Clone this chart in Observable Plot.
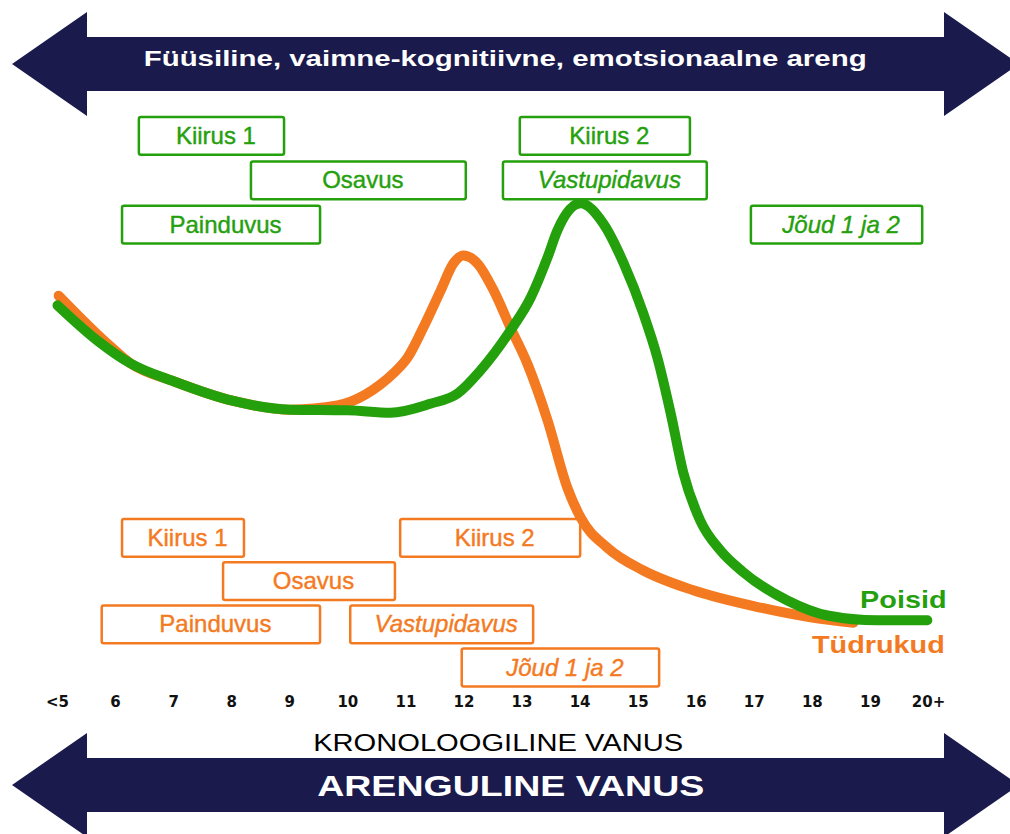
<!DOCTYPE html>
<html><head><meta charset="utf-8">
<script src="https://cdn.jsdelivr.net/npm/d3@7"></script>
<script src="https://cdn.jsdelivr.net/npm/@observablehq/plot@0.6"></script>
<style>
html,body{margin:0;padding:0;background:#fff;}
#wrap{position:relative;width:1010px;height:834px;overflow:hidden;font-family:"Liberation Sans",Arial,sans-serif;}
#deco{position:absolute;left:0;top:0;}
#chart{position:absolute;left:0;top:0;}
.bt{position:absolute;left:0;width:1010px;text-align:center;white-space:nowrap;}
.bt span{display:inline-block;transform-origin:50% 50%;}
</style></head>
<body><div id="wrap">
<svg id="deco" width="1010" height="834">
  <polygon points="12,64 87,12 87,37 944,37 944,12 1019,64 944,116 944,91 87,91 87,116" fill="#1a1a4c"/>
  <polygon points="12,785 87,733 87,758 944,758 944,733 1019,785 944,837 944,812 87,812 87,837" fill="#1a1a4c"/>
</svg>
<div id="chart"></div>
<div class="bt" id="t1" style="top:43px;line-height:31px;font-size:22px;font-weight:bold;color:#fff;"><span data-w="723">Füüsiline, vaimne-kognitiivne, emotsionaalne areng</span></div>
<div class="bt" id="t2" style="top:727px;line-height:32px;font-size:23px;color:#000;"><span data-w="370" style="margin-left:-14px">KRONOLOOGILINE VANUS</span></div>
<div class="bt" id="t3" style="top:765px;line-height:42px;font-size:30px;font-weight:bold;color:#fff;"><span data-w="387" style="margin-left:12px">ARENGULINE VANUS</span></div>
</div>
<script>
// ---- data ----
const ages = [5,6,7,8,9,10,11,12,13,14,15,16,17,18,19,20];
const tickLabels = ["<5","6","7","8","9","10","11","12","13","14","15","16","17","18","19","20+"];

const boysAge = [5.0,5.69,6.26,7.01,8.01,9.01,9.99,10.73,11.42,11.89,12.28,12.80,13.15,13.44,13.61,14.01,14.40,14.75,15.09,15.33,15.56,15.78,16.07,16.42,16.80,17.57,18.26,19.12,19.98];
const boysVal = [64.2,58.3,54.5,51.5,48.3,46.8,46.7,46.3,47.8,49.5,53.3,60.0,65.5,72.2,76.7,81.2,77.8,71.2,62.8,55.5,46.2,36.2,28.3,23.3,19.8,15.0,12.5,11.7,11.7];

const girlsAge = [5.02,5.86,6.26,7.01,8.01,9.01,9.82,10.30,10.56,10.80,11.03,11.30,11.60,11.82,11.99,12.23,12.51,12.80,13.09,13.44,13.78,14.01,14.47,15.09,15.95,17.11,17.97,18.71];
const girlsVal = [65.8,57.8,54.5,51.5,48.3,46.8,47.5,49.3,51.0,53.0,55.5,60.5,66.7,71.2,72.5,71.2,66.7,60.5,54.5,45.0,33.8,28.8,23.8,20.0,16.7,13.8,12.2,11.3];

const boysBoxLabel = ["Kiirus 1","Osavus","Painduvus","Kiirus 2","Vastupidavus","Jõud 1 ja 2"];
const boysBoxFrom  = [6.41, 8.34, 6.12, 12.97, 12.68, 16.95];
const boysBoxTo    = [8.91, 12.04, 9.53, 15.90, 16.19, 19.90];
const boysBoxRow   = [0, 1, 2, 0, 1, 2];
const boysBoxItalic = [false,false,false,false,true,true];

const girlsBoxLabel = ["Kiirus 1","Osavus","Painduvus","Kiirus 2","Vastupidavus","Jõud 1 ja 2"];
const girlsBoxFrom  = [6.12, 7.86, 5.77, 10.91, 10.05, 11.97];
const girlsBoxTo    = [8.22, 10.82, 9.53, 14.01, 13.20, 15.37];
const girlsBoxRow   = [0, 1, 2, 0, 2, 3];
const girlsBoxItalic = [false,false,false,false,true,true];

const seriesNames = ["Poisid","Tüdrukud"];

// ---- build tables ----
const GREEN = "#25a00d", ORANGE = "#f47a22";
const boys = boysAge.map((a,i)=>({age:a, v:boysVal[i]}));
const girls = girlsAge.map((a,i)=>({age:a, v:girlsVal[i]}));
const BOX_H = 6.3;
const boysBoxes = boysBoxLabel.map((l,i)=>{const top = 95.5 - 7.4*boysBoxRow[i]; return {label:l, from:boysBoxFrom[i], to:boysBoxTo[i], top, bottom:top-BOX_H, italic:boysBoxItalic[i]};});
const girlsBoxes = girlsBoxLabel.map((l,i)=>{const top = 28.5 - 7.2*girlsBoxRow[i]; return {label:l, from:girlsBoxFrom[i], to:girlsBoxTo[i], top, bottom:top-BOX_H, italic:girlsBoxItalic[i]};});

function boxMarks(boxes, color){
  const font = "Liberation Sans, Arial, sans-serif";
  return [
    Plot.rect(boxes, {x1:"from", x2:"to", y1:"bottom", y2:"top", fill:"white", stroke:color, strokeWidth:2.5, rx:2}),
    Plot.text(boxes.filter(d=>!d.italic), {x:d=>(d.from+d.to)/2, y:d=>(d.top+d.bottom)/2, text:"label", fill:color, stroke:color, strokeWidth:0.4, fontSize:24, fontFamily:font, dx:4}),
    Plot.text(boxes.filter(d=>d.italic), {x:d=>(d.from+d.to)/2, y:d=>(d.top+d.bottom)/2, text:"label", fill:color, stroke:color, strokeWidth:0.4, fontSize:24, fontFamily:font, fontStyle:"italic", dx:4})
  ];
}

const chart = Plot.plot({
  width:1010, height:834,
  marginTop:0, marginBottom:144, marginLeft:57, marginRight:82,
  x:{domain:[5,20], axis:null},
  y:{domain:[0,115], axis:null},
  style:{background:"transparent", overflow:"visible"},
  marks:[
    Plot.axisX({ticks:ages, tickFormat:d=>tickLabels[ages.indexOf(d)], tickSize:0, tickPadding:6, label:null, fontSize:15, fontWeight:"bold", fontFamily:"DejaVu Sans, sans-serif", fill:"#111"}),
    ...boxMarks(boysBoxes, GREEN),
    ...boxMarks(girlsBoxes, ORANGE),
    Plot.line(girls, {x:"age", y:"v", stroke:ORANGE, strokeWidth:10, curve:"monotone-x", strokeLinecap:"round", strokeLinejoin:"round"}),
    Plot.line(boys, {x:"age", y:"v", stroke:GREEN, strokeWidth:10, curve:"monotone-x", strokeLinecap:"round", strokeLinejoin:"round"}),
    Plot.text([seriesNames[0]], {x:20.31, y:15, text:d=>d, textAnchor:"end", fill:GREEN, fontSize:24, fontWeight:"bold", fontFamily:"Liberation Sans, Arial, sans-serif", className:"slabel"}),
    Plot.text([seriesNames[1]], {x:20.28, y:7.6, text:d=>d, textAnchor:"end", fill:ORANGE, fontSize:24, fontWeight:"bold", fontFamily:"Liberation Sans, Arial, sans-serif", className:"slabel"})
  ]
});
document.getElementById("chart").appendChild(chart);

// widen series labels a little, like the reference lettering
d3.select(chart).selectAll(".slabel text").each(function(){
  const w = this.getComputedTextLength();
  this.setAttribute("textLength", (w*1.2).toFixed(1));
  this.setAttribute("lengthAdjust", "spacingAndGlyphs");
});
// fit banner texts to the reference widths
document.querySelectorAll(".bt span").forEach(s=>{
  const w = s.getBoundingClientRect().width;
  const target = +s.dataset.w;
  s.style.transform = `scaleX(${(target/w).toFixed(3)})`;
});
</script>
</body></html>
